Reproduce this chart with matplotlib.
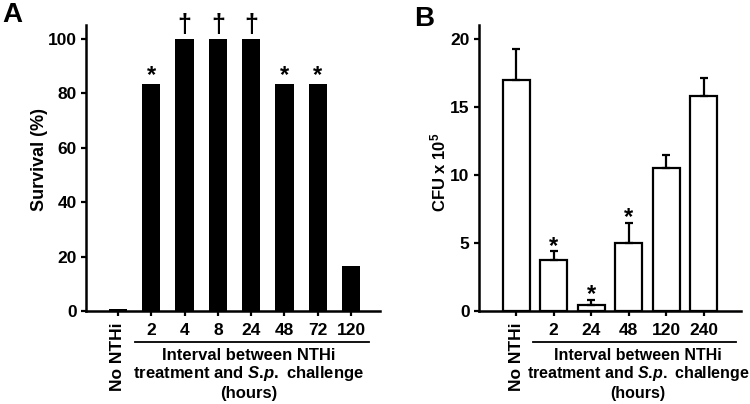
import numpy as np
import matplotlib
matplotlib.use("Agg")
import matplotlib.pyplot as plt

plt.rcParams['font.family'] = ['Liberation Sans', 'DejaVu Sans']
plt.rcParams['font.weight'] = 'bold'
plt.rcParams['mathtext.fontset'] = 'custom'
plt.rcParams['mathtext.rm'] = 'Liberation Sans:bold'
plt.rcParams['mathtext.it'] = 'Liberation Sans:bold:italic'

# panel A: survival
survival_labels = ["No NTHi", "2", "4", "8", "24", "48", "72", "120"]
survival = [0.6, 83.3, 100, 100, 100, 83.3, 83.3, 16.7]
survival_marks = ["", "*", "\u2020", "\u2020", "\u2020", "*", "*", ""]

# panel B: CFU
cfu_labels = ["No NTHi", "2", "24", "48", "120", "240"]
cfu = [17.0, 3.75, 0.45, 5.0, 10.5, 15.8]
cfu_err = [2.3, 0.65, 0.35, 1.5, 0.95, 1.35]
cfu_marks = ["", "*", "*", "*", "", ""]

W, H = 750, 404
fig = plt.figure(figsize=(7.5, 4.04), dpi=100)
axA = fig.add_axes([86 / W, 1 - 311 / H, (380 - 86) / W, (311 - 25) / H])
axB = fig.add_axes([479 / W, 1 - 311 / H, (741 - 479) / W, (311 - 25) / H])


def style_axis(ax, labels):
    for s in ['top', 'right']:
        ax.spines[s].set_visible(False)
    for s in ['left', 'bottom']:
        ax.spines[s].set_linewidth(1.8)
    ax.tick_params(direction='out', length=3.8, width=1.6, labelsize=12.5)
    ax.tick_params(axis='y', pad=3)
    ax.tick_params(axis='x', pad=4.5)
    ax.set_xticks(range(len(labels)))
    ax.set_xticklabels(labels)
    first = ax.get_xticklabels()[0]
    first.set_rotation(90)
    first.set_va('top')


def interval_caption(ax, x0, x1, xc, size=12):
    tr = ax.get_xaxis_transform()
    ax.plot([x0, x1], [-0.108, -0.108], color='black', lw=1.3, transform=tr, clip_on=False)
    ax.text(xc, -0.157, "Interval between NTHi", transform=tr, ha='center', va='center', fontsize=size)
    ax.text(xc, -0.218, r"treatment and $\mathit{S.\!p.}$ challenge", transform=tr,
            ha='center', va='center', fontsize=size)
    ax.text(xc, -0.287, "(hours)", transform=tr, ha='center', va='center', fontsize=size)


# ---- A ----
xa = np.arange(len(survival))
axA.bar(xa, survival, width=0.55, color='black')
axA.set_xlim(-0.96, 7.87)
axA.set_ylim(0, 105.15)
axA.set_yticks([0, 20, 40, 60, 80, 100])
style_axis(axA, survival_labels)
for x, v, m in zip(xa, survival, survival_marks):
    if m == "*":
        axA.annotate(m, (x, v), xytext=(0, 1.5), textcoords='offset points',
                     ha='center', va='baseline', fontsize=17)
    elif m:
        axA.annotate(m, (x, v), xytext=(0, 5), textcoords='offset points',
                     ha='center', va='baseline', fontsize=18)
axA.text(-(86 - 40) / 294, 0.528, "Survival (%)", transform=axA.transAxes,
         rotation=90, ha='center', va='center', fontsize=13)
interval_caption(axA, 0.51, 7.54, 3.93)

# ---- B ----
xb = np.arange(len(cfu))
axB.bar(xb, cfu, width=0.72, color='white', edgecolor='black', linewidth=1.6)
axB.errorbar(xb, cfu, yerr=[np.zeros(len(cfu)), cfu_err], fmt='none',
             ecolor='black', elinewidth=1.6, capsize=3, capthick=1.6)
axB.set_xlim(-0.99, 6.0)
axB.set_ylim(0, 21.03)
axB.set_yticks([0, 5, 10, 15, 20])
style_axis(axB, cfu_labels)
for x, v, e, m in zip(xb, cfu, cfu_err, cfu_marks):
    if m:
        axB.annotate(m, (x, v + e), xytext=(0, -1), textcoords='offset points',
                     ha='center', va='baseline', fontsize=17)
axB.text(-(479 - 438) / 262, 0.486, r"CFU x 10$^{5}$", transform=axB.transAxes,
         rotation=90, ha='center', va='center', fontsize=12)
interval_caption(axB, 0.45, 5.87, 3.25, size=11.5)

fig.text(12 / W, 1 - 15 / H, "A", ha='center', va='center', fontsize=20)
fig.text(424 / W, 1 - 19 / H, "B", ha='center', va='center', fontsize=20)

fig.savefig("out.png", dpi=100)
